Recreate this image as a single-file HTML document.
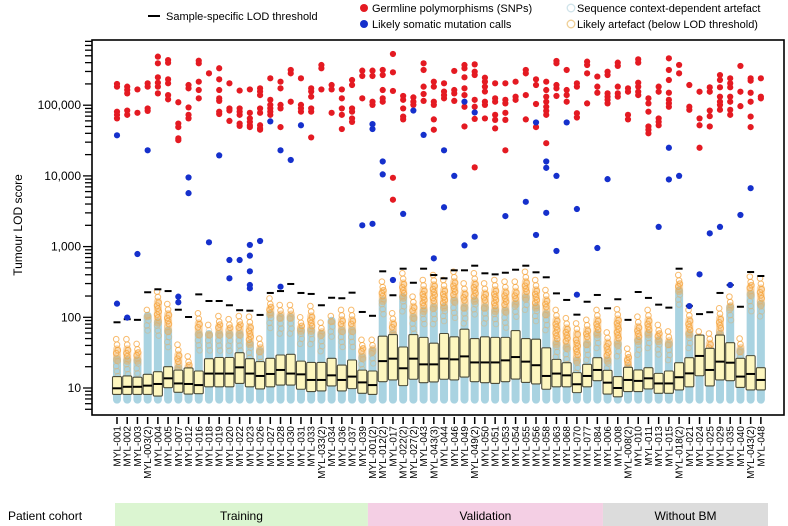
<!DOCTYPE html>
<html><head><meta charset="utf-8"><style>
html,body{margin:0;padding:0;background:#fff;}
svg{display:block;font-family:"Liberation Sans",Arial,sans-serif;}
</style></head><body>
<svg id="chart" width="788" height="526" viewBox="0 0 788 526" xmlns="http://www.w3.org/2000/svg">
<g id="legend">
  <line x1="148" y1="16" x2="160" y2="16" stroke="#000" stroke-width="2"/>
  <text x="166" y="20" font-size="11">Sample-specific LOD threshold</text>
  <circle cx="364" cy="8" r="4" fill="#e41a22"/>
  <text x="372" y="12" font-size="11">Germline polymorphisms (SNPs)</text>
  <circle cx="364" cy="24" r="4" fill="#1530cc"/>
  <text x="372" y="28" font-size="11">Likely somatic mutation calls</text>
  <circle cx="571" cy="8" r="3.8" fill="none" stroke="#cfe3ea" stroke-width="1.3"/>
  <text x="577" y="12" font-size="11">Sequence context-dependent artefact</text>
  <circle cx="571" cy="24" r="3.8" fill="none" stroke="#efcf95" stroke-width="1.3"/>
  <text x="577" y="28" font-size="11">Likely artefact  (below LOD threshold)</text>
</g>
<g id="marks"></g>
<g id="axes"></g>
<rect x="92" y="40" width="692" height="375" fill="none" stroke="#000" stroke-width="1.6"/>
<text transform="translate(22,225) rotate(-90)" text-anchor="middle" font-size="12">Tumour LOD score</text>
<g id="cohort">
  <text x="8" y="520" font-size="12">Patient cohort</text>
</g>
</svg>
<script>
const samples = ["MYL-001","MYL-002","MYL-003","MYL-003(2)","MYL-004","MYL-005","MYL-007","MYL-012","MYL-016","MYL-018","MYL-019","MYL-020","MYL-022","MYL-023","MYL-026","MYL-027","MYL-028","MYL-030","MYL-031","MYL-033","MYL-033(2)","MYL-034","MYL-036","MYL-037","MYL-039",
"MYL-001(2)","MYL-012(2)","MYL-017","MYL-022(2)","MYL-027(2)","MYL-043","MYL-043(3)","MYL-044","MYL-046","MYL-049","MYL-049(2)","MYL-050","MYL-051","MYL-053","MYL-054","MYL-055","MYL-056","MYL-058","MYL-063","MYL-068","MYL-070","MYL-077","MYL-084",
"MYL-006","MYL-008","MYL-008(2)","MYL-010","MYL-011","MYL-013","MYL-015","MYL-018(2)","MYL-021","MYL-024","MYL-025","MYL-029","MYL-035","MYL-040","MYL-043(2)","MYL-048"];
const cohortNames = ["Training","Validation","Without BM"];
const cohortSizes = [25,23,16];
const medians = [9.9,10.4,10.4,10.8,11.4,13.7,11.6,11.4,11,16,16,16,19.6,16,14.8,15.8,18,16,15.6,13,13,15.1,13,14.5,12,
11,24,26,19,26,21.6,21.6,26,25.4,28,23,23,23,24.6,27.4,23.6,21,14.8,16,15.1,11.3,14.8,18,
11.9,10,13,12.6,13.7,11.6,11.6,14.2,16.1,28.4,18,23.6,22.8,14.5,15.8,13];
const q1s = [8.1,8.1,8.1,8.1,7.7,10.1,8.7,8.2,8.3,10.4,10.4,10.4,11.6,10.4,9.7,10.4,11,11,9.6,8.9,9.1,10.7,9.1,9.8,8.4,
8.1,12.3,13,10.8,13.3,11.9,12.2,13.3,13,14.3,12.3,11.9,11.6,12.3,13.4,12,11.4,9.6,10.4,10.4,8.6,10.4,12.7,
8.2,7.5,8.9,8.9,9.7,8.4,8.4,9.4,10.4,14.9,10.7,13,12.7,10.2,9.4,9.4];
const q3s = [14.5,14.8,14.2,15.6,17,20,17.9,19.2,17.4,26,27,27,31.6,26,23.6,26.3,29.3,30,24,23,23,26.3,21.1,24.9,17.9,
17.4,54,57,38,57,52,43,59,53,68,50,53,52,52,65,50,49,37,25.4,22.8,16.5,21.6,26.8,
17.8,14.5,19.6,18,19.4,16.1,17.4,22.8,26.8,56,36.4,56,43.8,26.3,28.7,19.4];
const lods = [85,94,92,226,249,235,128,101,211,170,170,148,126,124,108,221,235,296,221,214,148,189,186,223,119,
105,447,205,487,308,487,396,356,462,462,537,419,405,427,471,537,433,368,218,176,109,166,207,
134,180,92,228,188,151,137,487,145,111,118,221,286,141,437,384];
const bulkTops = [29,28,28,120,97,74,22,20,66,66,66,66,66,48,38,127,114,114,74,74,66,102,74,74,31,
38,196,66,218,114,141,158,158,196,158,196,158,141,141,176,218,158,127,48,43,28,48,66,
28,48,22,53,66,53,48,271,66,48,34,66,158,38,243,176];
const artefactMax = [49,49,42,127,231,154,41,28,114,78,104,94,104,102,50,185,149,149,100,144,84,104,127,127,48,
48,319,114,419,196,337,396,337,441,302,419,302,337,319,319,441,337,243,127,97,82,92,127,
61,130,36,102,127,78,63,396,127,63,59,134,196,50,376,356];
const bulkMin = 6;
// germline SNP scores, in thousands
const germlineK = [
[200,183,81,73,65],[183,164,147,84,73],[167,78],[204,183,90,83],[486,391,248,208,183,147],
[435,398,232,204,139,121],[110,55,49,34,32],[193,173,93,73,65],[426,391,215,164,125],[282],
[333,232,164,125,115,81,75],[204,90,84,60],[161,90,81,73,55,51],[167,78,65,58,52,49],[173,156,139,90,78,52,47,45],
[240,119,101,90,81,73],[215,173,101,90,49],[315,282,112],[240,101,90,81],[173,156,132,90,81,35],
[370,333,167],[193,167,78],[167,125,90,73,46],[227,193,90,81,65,58],[308,259,125],
[308,259,112,101],[315,267,164,125,112],[530,292,159,9.4,4.6],[135,119,90,69,63],[129,112,101],
[391,315,183,144,115],[215,183,112,101,63,45],[204,156,139,125],[305,164,147,115],[370,333,248,173,139,95,50],
[378,298,267,119,95,64,13.2],[245,215,183,156,112,101,65],[204,125,112,73,62,47],[204,119,106,78,62,23],[215,132,119],
[315,282,139,63],[232,193,104,49],[215,164,132,112,95,83,73,29],[422,391,193,173,135],[315,164,139,112],
[204,183,77,67],[413,370,282,106],[254,183,150],
[298,267,147,132,119,106],[400,359,183,147,132],[173,155,73,63],[446,400,208,183,155,139],[125,106,81,50,45,40],
[183,155,65,58,52],[460,315,227,150,119,106,95],[371,282],[193,95,86],[155,65,52,25],
[179,155,84,70,50],[267,227,179,132,112,101,86],[240,204,179,132,112,86,73],[359,155,97],[240,222,150,112,69,49],[240,132,125]];
// somatic call scores, in thousands
const somaticK = [
[37.5,0.156],[0.099],[0.785],[23],[],[],[0.196,0.163],[9.5,5.7],[],[1.15],
[19.5],[0.646,0.356],[0.646],[1.055,0.745,0.447,0.286,0.257],[1.2],[59],[23,0.271],[16.8],[52],[],
[],[],[],[],[2.0],
[54,46,2.1],[16,10.5],[0.337],[2.9],[84],[38],[0.682],[23,3.6],[10],[112,1.04],
[79,1.38],[],[],[2.7],[],[4.3],[57,1.46],[16,13,3.0],[10,0.867],[57],
[3.4,0.209],[],[0.955],
[9.0],[],[],[],[],[1.9],[25,8.9],[10],[0.144],[0.405],[1.54],[1.9],[0.286],[2.8],[6.7],[]];
const yTickValues = [10,100,1000,10000,100000];
const yTickLabels = ["10","100","1,000","10,000","100,000"];

const NS = "http://www.w3.org/2000/svg";
const X0 = 117, DX = 10.22;
function xPos(i){ return X0 + i*DX; }
function yPos(v){ return 388 - 70.7*Math.log10(v/10); }
function mk(tag, attrs, parent){ const e=document.createElementNS(NS,tag); for(const k in attrs) e.setAttribute(k,attrs[k]); parent.appendChild(e); return e; }

const marks = document.getElementById('marks');
const axes = document.getElementById('axes');

samples.forEach((s,i)=>{
  const x = xPos(i);
  const g = mk('g',{},marks);
  
  
  const yt = yPos(bulkTops[i]), yb = yPos(bulkMin);
  const col = mk('rect',{x:x-4,y:yt,width:8,height:yb-yt,rx:4,fill:'#a9d3e1'},g);
  
  
  const ya = yPos(artefactMax[i]);
  const yStart = yPos(bulkTops[i]*0.5);
  // dense orange haze in the upper part of the column
  const hz = mk('rect',{x:x-4,y:Math.min(yt+2, ya+6),width:8,height:Math.max(0,(yt+(yStart-yt)*0.4)-Math.min(yt+2, ya+6)),rx:4,fill:'#f3a84a','fill-opacity':0.45},g);
  
  
  let n = 0;
  for(let y=ya; y<=yStart; n++){
    const above = y < yt;
    const c = mk('circle',{cx:x + ((n%3)-1)*0.8,cy:y,r:2.8,fill:'none',stroke: above ? '#f5a43c' : '#e6ad62','stroke-width':1,'stroke-opacity': above ? 0.75 : 0.4},g);
    
    
    y += above ? (y < ya + (yt-ya)*0.35 ? 5.5 : 3) : 5;
  }
  const b = mk('rect',{x:x-4.5,y:yPos(q3s[i]),width:9,height:yPos(q1s[i])-yPos(q3s[i]),rx:1.2,fill:'#fdf6bf',stroke:'#4d4d3a','stroke-width':1.1},g);
  
  
  const m = mk('line',{x1:x-4.5,x2:x+4.5,y1:yPos(medians[i]),y2:yPos(medians[i]),stroke:'#000','stroke-width':2},g);
  
  
  const l = mk('line',{x1:x-3.5,x2:x+3.5,y1:yPos(lods[i]),y2:yPos(lods[i]),stroke:'#000','stroke-width':2},g);
  
  
  germlineK[i].forEach(v=>{
    const c = mk('circle',{cx:x,cy:yPos(v*1000),r:3.1,fill:'#e41a22'},g);
    
    
  });
  somaticK[i].forEach(v=>{
    const c = mk('circle',{cx:x,cy:yPos(v*1000),r:3.1,fill:'#1530cc'},g);
    
    
  });
  const t = mk('line',{x1:x,x2:x,y1:417,y2:424,stroke:'#000','stroke-width':1.5},axes);
  
  
  const tx = mk('text',{transform:`translate(${x+3.5},426) rotate(-90)`,'text-anchor':'end','font-size':10},axes);
  tx.textContent = s;
  
  
});

for(let e=0;e<=5;e++){
  for(let k=1;k<=9;k++){
    const v = k*Math.pow(10,e);
    const y = yPos(v);
    if(y<41 || y>414) continue;
    const t = mk('line',{x1:k===1?83:85,x2:92,y1:y,y2:y,stroke:'#000','stroke-width':1.3},axes);
    
    
  }
}
yTickValues.forEach((v,j)=>{
  const t = mk('text',{x:81,y:yPos(v)+4,'text-anchor':'end','font-size':12},axes);
  t.textContent = yTickLabels[j];
  
  
});

const cohortColors = ['#dbf5d1','#f4cfe4','#dcdcdc'];
const cohortG = document.getElementById('cohort');
let start = 0;
cohortSizes.forEach((n,j)=>{
  const x1 = j===0 ? 115 : xPos(start) - DX/2 + 0.5;
  const x2 = j===cohortSizes.length-1 ? 768 : xPos(start+n) - DX/2 + 0.5;
  const r = mk('rect',{x:x1,y:503,width:x2-x1,height:23,fill:cohortColors[j]},cohortG);
  
  
  const t = mk('text',{x:(x1+x2)/2,y:520,'text-anchor':'middle','font-size':12},cohortG);
  t.textContent = cohortNames[j];
  
  
  start += n;
});
</script>
</body></html>
